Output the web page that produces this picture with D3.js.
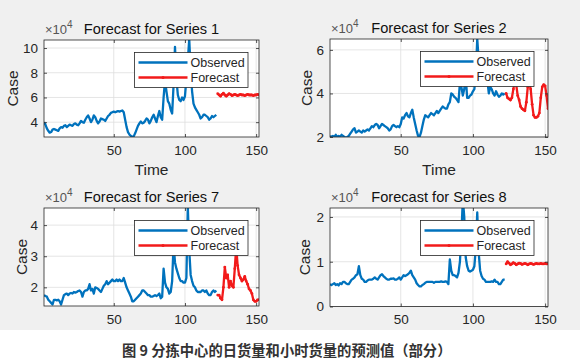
<!DOCTYPE html>
<html><head><meta charset="utf-8">
<script src="https://cdn.jsdelivr.net/npm/d3@7"></script>
<style>body{margin:0;background:#fff} svg{display:block}</style>
</head><body><svg id="c" width="584" height="359"></svg>
<script>
// ---- data (values in units of 10^4 cases) ----
const xTicks = [50, 100, 150];
const timeDomain = [1, 152];
const obsStart = 1, fcStart = 123;

const s1Obs = [4.0,3.8,3.5,3.3,3.15,3.2,3.4,3.45,3.4,3.35,
 3.3,3.5,3.6,3.55,3.7,3.75,3.6,3.7,3.8,3.75,
 3.7,3.85,3.9,3.8,3.75,3.9,4.1,4.0,3.95,4.2,
 4.4,4.55,4.3,4.0,4.2,4.55,4.4,4.1,3.9,4.05,
 4.3,4.25,4.2,4.1,4.3,4.5,4.6,4.75,4.8,4.85,
 4.8,4.85,4.9,4.85,4.9,4.95,4.8,4.2,3.6,3.2,
 3.0,2.9,2.8,2.85,3.1,3.4,3.7,3.9,4.05,3.9,
 3.95,4.1,4.3,4.2,3.9,4.1,4.4,4.6,4.3,4.0,
 4.5,4.9,4.4,4.2,6.0,7.4,6.5,5.7,5.5,5.0,
 4.7,7.0,10.1,7.5,6.2,5.8,5.7,6.0,5.8,6.1,
 7.5,9.0,10.7,8.2,6.5,5.5,5.2,5.0,4.8,4.6,
 4.3,4.4,4.6,4.6,4.5,4.4,4.2,4.3,4.5,4.4,4.5,4.6];
const s1Fc = [6.3,6.2,6.1,6.25,6.35,6.2,6.1,6.2,6.3,6.25,6.15,6.2,6.25,6.2,6.15,
 6.2,6.25,6.2,6.2,6.15,6.2,6.25,6.2,6.2,6.2,6.15,6.2,6.2,6.25,6.2];

const s2Obs = [2.05,2.0,2.05,2.0,2.1,2.0,2.05,2.0,2.1,2.05,
 2.0,1.97,2.0,2.05,2.15,2.25,2.35,2.4,2.2,2.25,
 2.3,2.25,2.2,2.3,2.25,2.3,2.35,2.3,2.4,2.5,
 2.45,2.55,2.6,2.55,2.4,2.5,2.6,2.55,2.5,2.45,
 2.4,2.3,2.35,2.5,2.55,2.5,2.45,2.5,2.45,2.6,
 2.9,2.85,3.0,3.1,2.95,2.9,3.1,3.25,2.9,2.6,
 2.3,2.05,2.0,2.2,2.5,2.8,3.0,2.95,2.9,3.0,
 3.1,3.05,3.0,3.1,3.2,3.1,3.2,3.3,3.4,3.35,
 3.3,3.3,3.5,3.6,4.0,3.95,3.85,3.8,3.7,3.6,
 4.5,4.3,3.9,4.2,4.8,3.8,3.8,3.9,3.95,4.1,
 4.2,4.9,6.5,5.5,4.8,4.6,4.5,4.7,4.4,4.6,
 4.0,4.3,4.2,4.0,3.9,4.1,3.95,3.85,3.9,4.0,3.95,4.0];
const s2Fc = [4.0,3.8,3.75,3.7,3.8,4.2,4.6,4.4,3.9,3.7,3.4,3.3,3.25,3.2,3.6,
 4.3,4.5,4.2,3.5,3.0,2.9,2.9,2.95,3.1,3.8,4.3,4.4,4.35,3.9,3.3];

const s7Obs = [1.75,1.72,1.7,1.6,1.55,1.5,1.45,1.6,1.6,1.58,
 1.6,1.55,1.45,1.6,1.75,1.78,1.8,1.75,1.8,1.82,
 1.8,1.85,1.83,1.85,1.88,1.9,1.85,1.7,1.85,1.9,
 1.9,1.95,2.1,1.9,1.95,1.8,2.0,1.98,1.95,1.9,
 1.85,1.95,2.05,2.1,2.2,2.1,2.15,2.2,2.25,2.2,
 2.2,2.25,2.2,2.25,2.2,2.2,2.3,2.15,2.0,1.9,
 1.8,1.7,1.55,1.55,1.6,1.65,1.7,1.75,1.8,1.9,
 1.9,1.85,1.8,1.75,1.75,1.7,1.7,1.72,1.75,1.72,
 1.75,1.8,1.65,1.7,2.6,2.15,2.0,1.95,1.8,1.85,
 2.2,3.4,2.8,2.6,2.45,2.3,2.2,2.2,2.15,2.15,
 2.3,4.6,3.2,2.4,2.2,2.05,2.0,1.9,1.85,1.85,
 1.85,1.9,1.9,1.85,1.9,1.8,1.75,1.75,1.85,1.9,1.85,1.9];
const s7Fc = [1.75,1.75,1.65,1.6,2.0,2.65,2.3,2.4,2.0,2.2,2.05,2.0,2.6,3.3,2.7,
 2.4,2.3,2.2,2.25,2.35,2.2,2.1,1.95,1.9,1.8,1.6,1.55,1.55,1.6,1.6];

const s8Obs = [0.5,0.48,0.5,0.52,0.48,0.5,0.47,0.52,0.5,0.55,
 0.55,0.52,0.5,0.5,0.55,0.6,0.62,0.65,0.7,0.72,
 0.9,0.7,0.62,0.6,0.55,0.55,0.58,0.6,0.6,0.6,
 0.62,0.65,0.62,0.6,0.65,0.7,0.72,0.68,0.65,0.62,
 0.6,0.6,0.62,0.62,0.63,0.6,0.6,0.62,0.65,0.6,
 0.65,0.7,0.68,0.7,0.72,0.75,0.8,0.7,0.65,0.6,
 0.52,0.48,0.45,0.45,0.48,0.5,0.53,0.55,0.55,0.55,
 0.55,0.55,0.53,0.55,0.55,0.55,0.55,0.56,0.55,0.55,
 0.56,0.55,0.5,1.05,0.8,0.7,0.7,0.68,0.65,0.75,
 1.0,1.6,2.4,2.0,1.1,0.9,0.8,0.78,0.8,0.82,
 0.9,1.3,2.1,1.2,0.8,0.68,0.62,0.6,0.55,0.55,
 0.55,0.55,0.56,0.55,0.6,0.55,0.55,0.5,0.5,0.55,0.6,0.6];
const s8Fc = [0.95,1.0,0.97,0.93,0.95,0.98,0.96,0.93,0.95,0.97,0.96,0.94,0.95,0.96,0.95,
 0.93,0.95,0.96,0.95,0.94,0.95,0.96,0.95,0.95,0.96,0.95,0.95,0.96,0.95,0.95];

const titles = ["Forecast for Series 1","Forecast for Series 2","Forecast for Series 7","Forecast for Series 8"];
const yDomains = [[2.8,10.65],[2.0,6.5],[1.4,4.55],[0,2.2]];
const yTickSets = [[4,6,8,10],[2,4,6],[2,3,4],[0,1,2]];
const legendLabels = ["Observed","Forecast"];
const caption = "图 9 分拣中心的日货量和小时货量的预测值（部分）";

// ---- layout ----
const layout = [
  {x0:44, x1:259, y0:40,  y1:137, yl:13,  xlabel:true},
  {x0:330,x1:548, y0:39,  y1:137, yl:307, xlabel:true},
  {x0:44, x1:259, y0:208, y1:306, yl:22,  xlabel:false},
  {x0:330,x1:548, y0:208, y1:306.5, yl:305, xlabel:false}
];
const obsData = [s1Obs, s2Obs, s7Obs, s8Obs];
const fcData = [s1Fc, s2Fc, s7Fc, s8Fc];

const BLUE = "#0072BD", RED = "#F21A1A", AX = "#262626", GRID = "#dedede";
const FONT = "'Liberation Sans', Arial, Helvetica, sans-serif";

const svg = d3.select("#c");
svg.append("rect").attr("x",0).attr("y",0).attr("width",580).attr("height",330).attr("fill","#f0f0f0");

layout.forEach((L, i) => {
  const x = d3.scaleLinear().domain(timeDomain).range([L.x0, L.x1]);
  const y = d3.scaleLinear().domain(yDomains[i]).range([L.y1, L.y0]);
  const g = svg.append("g");
  const clipId = "clip" + i;
  svg.append("clipPath").attr("id", clipId).append("rect")
    .attr("x", L.x0).attr("y", L.y0).attr("width", L.x1 - L.x0).attr("height", L.y1 - L.y0);

  g.append("rect").attr("x", L.x0).attr("y", L.y0).attr("width", L.x1 - L.x0)
    .attr("height", L.y1 - L.y0).attr("fill", "#fff");

  // grid
  g.selectAll(".vg").data(xTicks).join("line")
    .attr("x1", d => x(d)).attr("x2", d => x(d)).attr("y1", L.y0).attr("y2", L.y1)
    .attr("stroke", GRID).attr("stroke-width", 0.8);
  g.selectAll(".hg").data(yTickSets[i]).join("line")
    .attr("x1", L.x0).attr("x2", L.x1).attr("y1", d => y(d)).attr("y2", d => y(d))
    .attr("stroke", GRID).attr("stroke-width", 0.8);

  // lines
  const line = d3.line().x(d => x(d.t)).y(d => y(d.v));
  const obs = obsData[i].map((v, k) => ({t: obsStart + k, v}));
  const fc = fcData[i].map((v, k) => ({t: fcStart + k, v}));
  const pg = g.append("g").attr("clip-path", `url(#${clipId})`);
  pg.append("path").datum(obs).attr("d", line).attr("fill", "none")
    .attr("stroke", BLUE).attr("stroke-width", 2.3).attr("stroke-linejoin", "round");
  pg.append("path").datum(fc).attr("d", line).attr("fill", "none")
    .attr("stroke", RED).attr("stroke-width", 2.3).attr("stroke-linejoin", "round");
  pg.selectAll(".dot").data(fc).join("circle").attr("cx", d => x(d.t)).attr("cy", d => y(d.v))
    .attr("r", 1.4).attr("fill", RED);

  // axes (box with inward ticks on all sides)
  const axB = d3.axisBottom(x).tickValues(xTicks).tickSizeInner(-3).tickSizeOuter(0).tickPadding(8).tickFormat(d3.format("d"));
  const axT = d3.axisTop(x).tickValues(xTicks).tickSizeInner(-3).tickSizeOuter(0).tickFormat("");
  const axL = d3.axisLeft(y).tickValues(yTickSets[i]).tickSizeInner(-3).tickSizeOuter(0).tickPadding(6).tickFormat(d3.format("d"));
  const axR = d3.axisRight(y).tickValues(yTickSets[i]).tickSizeInner(-3).tickSizeOuter(0).tickFormat("");
  const style = sel => {
    sel.select(".domain").remove();
    sel.selectAll("line").attr("stroke", AX).attr("stroke-width", 0.8);
    sel.selectAll("text").attr("fill", AX).attr("font-family", FONT).attr("font-size", 13.5);
  };
  g.append("g").attr("transform", `translate(0,${L.y1})`).call(axB).call(style);
  g.append("g").attr("transform", `translate(0,${L.y0})`).call(axT).call(style);
  g.append("g").attr("transform", `translate(${L.x0},0)`).call(axL).call(style);
  g.append("g").attr("transform", `translate(${L.x1},0)`).call(axR).call(style);
  g.append("rect").attr("x", L.x0).attr("y", L.y0).attr("width", L.x1 - L.x0)
    .attr("height", L.y1 - L.y0).attr("fill", "none").attr("stroke", AX).attr("stroke-width", 0.8);

  // title & exponent
  g.append("text").attr("x", (L.x0 + L.x1) / 2).attr("y", L.y0 - 6).attr("text-anchor", "middle")
    .attr("font-family", FONT).attr("font-size", 14.6).attr("fill", "#111").text(titles[i]);
  const ex = g.append("text").attr("x", L.x0 + 1).attr("y", L.y0 - 6)
    .attr("font-family", FONT).attr("font-size", 13).attr("fill", "#555");
  ex.append("tspan").text("×10");
  ex.append("tspan").attr("font-size", 10).attr("dy", -6).text("4");

  // axis labels
  g.append("text").attr("transform", `translate(${L.yl + 5},${(L.y0 + L.y1) / 2}) rotate(-90)`)
    .attr("text-anchor", "middle").attr("font-family", FONT).attr("font-size", 15.5).attr("fill", AX).text("Case");
  if (L.xlabel) {
    g.append("text").attr("x", (L.x0 + L.x1) / 2).attr("y", L.y1 + 38).attr("text-anchor", "middle")
      .attr("font-family", FONT).attr("font-size", 15.5).attr("fill", AX).text("Time");
  }

  // legend
  const lx = L.x0 + 90.5, ly = L.y0 + 12.5;
  const lg = g.append("g");
  lg.append("rect").attr("x", lx).attr("y", ly).attr("width", 113.5).attr("height", 35)
    .attr("fill", "#fff").attr("stroke", AX).attr("stroke-width", 0.8);
  const cols = [BLUE, RED];
  legendLabels.forEach((lab, k) => {
    const yy = ly + 10 + k * 15;
    lg.append("line").attr("x1", lx + 4).attr("x2", lx + 53).attr("y1", yy).attr("y2", yy)
      .attr("stroke", cols[k]).attr("stroke-width", 2.3);
    if (k === 1) lg.append("circle").attr("cx", lx + 28.5).attr("cy", yy).attr("r", 1.5).attr("fill", RED);
    lg.append("text").attr("x", lx + 56).attr("y", yy + 4.5).attr("font-family", FONT)
      .attr("font-size", 12.5).attr("fill", AX).text(lab);
  });
});

svg.append("text").attr("x", 122).attr("y", 356).attr("font-family", "Noto Sans CJK SC")
  .attr("font-weight", "bold").attr("font-size", 14.3).attr("fill", "#333").text(caption);
</script></body></html>
